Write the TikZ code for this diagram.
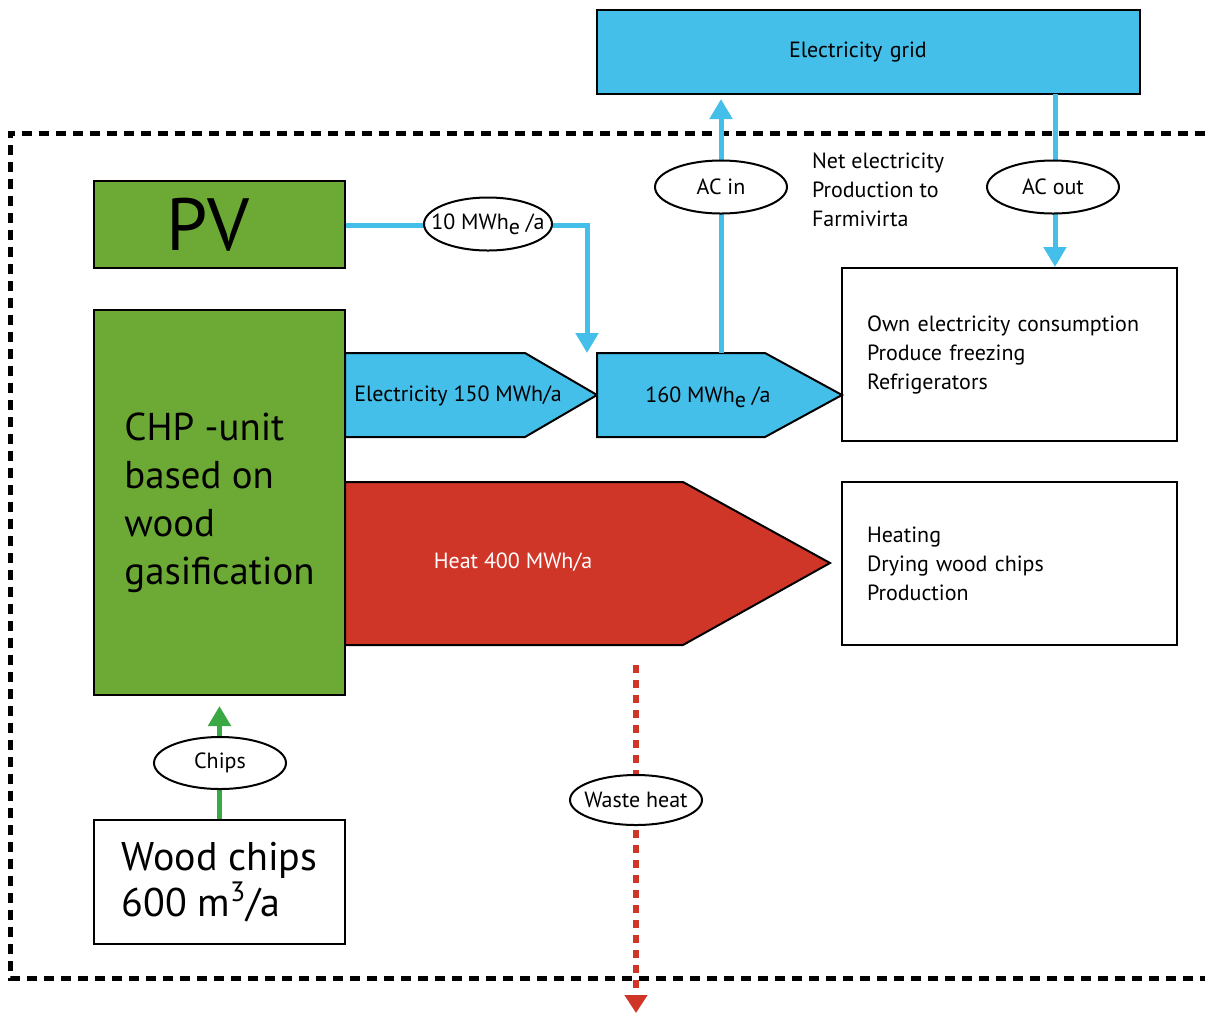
\documentclass[tikz,border=0pt]{standalone}
\usepackage{fontspec}
\setmainfont{PT Sans}
\usetikzlibrary{arrows.meta,shapes.geometric}
\definecolor{gridblue}{RGB}{68,191,234}
\definecolor{chpgreen}{RGB}{108,170,53}
\definecolor{chipgreen}{RGB}{58,168,68}
\definecolor{heatred}{RGB}{208,54,39}
\newcommand{\elsub}{\raisebox{-.45ex}{e}}
\begin{document}
\begin{tikzpicture}[x=0.5pt,y=-0.5pt,
		box/.style={draw,line width=1pt,inner sep=0pt},
		tag/.style={ellipse,draw,fill=white,line width=1pt,inner xsep=-8pt,inner ysep=0pt,minimum width=66pt,minimum height=26.5pt,font=\fontsize{11}{13}\selectfont},
		small/.style={font=\fontsize{11}{14.5}\selectfont},
		blueflow/.style={gridblue,line width=2.5pt,-{Triangle[width=11pt,length=10pt]}},
		greenflow/.style={chipgreen,line width=2.5pt,-{Triangle[width=11pt,length=10pt]}},
		pent/.style={draw=black,line width=1pt}]
	\useasboundingbox (0,0) rectangle (1205,1014);
	\draw[line width=2.5pt,dash pattern=on 5pt off 3.5pt](1205,133) -- (10,133) -- (10,978) -- (1205,978);
	\node(grid)[box,fill=gridblue,text width=79.5pt,inner xsep=96pt,minimum height=42pt,align=left,small] at (868.5,52){Electricity grid};
	\node(pv)[box,fill=chpgreen,text width=53.5pt,inner xsep=36pt,minimum height=43.5pt,align=left,font=\fontsize{37}{40}\selectfont] at (219.5,224.5){PV};
	\node(chp)[box,fill=chpgreen,minimum width=125.5pt,minimum height=192.5pt,align=left,font=\fontsize{19.4}{24}\selectfont] at (219.5,502.5){CHP -unit\\based on\\wood\\gasification};
	\node(wood)[box,fill=white,minimum width=125.5pt,minimum height=62pt,align=left,font=\fontsize{20}{23}\selectfont] at (219.5,882){Wood chips\\600 m\textsuperscript{3}/a};
	\node(own)[box,fill=white,text width=142.5pt,inner xsep=12.5pt,minimum height=86.5pt,align=left,small] at (1009.5,354.5){Own electricity consumption\\Produce freezing\\Refrigerators};
	\node(heat)[box,fill=white,text width=142.5pt,inner xsep=12.5pt,minimum height=81.5pt,align=left,small] at (1009.5,563.5){Heating\\Drying wood chips\\Production};
	\filldraw[pent,fill=gridblue](345,353) -- (525,353) -- (597,395) -- (525,437) -- (345,437) -- cycle;
	\node(elec)[small] at (458,396){Electricity 150 MWh/a};
	\filldraw[pent,fill=gridblue](597,353) -- (765,353) -- (842,395) -- (765,437) -- (597,437) -- cycle;
	\node(net)[small] at (708,397){160 MWh\elsub\ /a};
	\filldraw[pent,fill=heatred](345,482) -- (683,482) -- (830,563) -- (683,645) -- (345,645) -- cycle;
	\node(heatflow)[small,text=white] at (513,562){Heat 400 MWh/a};
	\node(nettxt)[small,align=left,anchor=west] at (805,190){Net electricity\\Production to\\Farmivirta};
	\coordinate(pvturn) at (587,225);
	\coordinate(netin) at (587,353);
	\coordinate(acfrom) at (721,353);
	\coordinate(gridin) at (721,99);
	\coordinate(gridout) at (1055,94);
	\coordinate(wastefrom) at (636,665);
	\coordinate(wasteto) at (636,1013);
	\draw[blueflow](pv.east |- pvturn) -- (pvturn) -- (netin);
	\draw[blueflow](acfrom) -- (gridin);
	\draw[blueflow](gridout) -- (gridout |- own.north);
	\draw[greenflow,shorten >=5pt](wood) -- (chp);
	\draw[heatred,line width=3pt,dash pattern=on 4pt off 3.5pt,-{Triangle[width=11pt,length=9pt]}](wastefrom) -- (wasteto);
	\node(pvtag)[tag,minimum width=64pt] at (488,224){10 MWh\elsub\ /a};
	\node(acin)[tag] at (721,187){AC in};
	\node(acout)[tag] at (1053,187){AC out};
	\node(chips)[tag,minimum height=26pt] at (220,763){Chips};
	\node(waste)[tag,minimum height=25pt] at (636,800){Waste heat};
\end{tikzpicture}
\end{document}
